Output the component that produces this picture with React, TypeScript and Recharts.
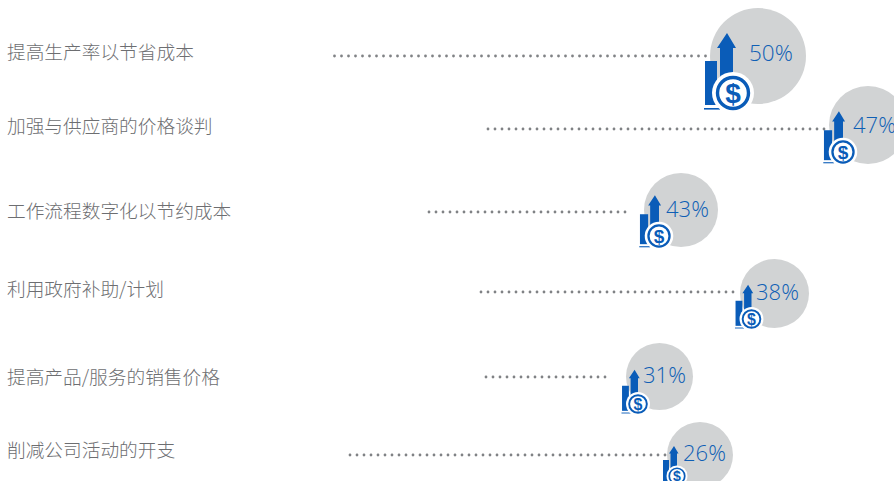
import React from "react";
import { ScatterChart, Scatter, XAxis, YAxis, ReferenceLine } from "recharts";

const categories = ["提高生产率以节省成本", "加强与供应商的价格谈判", "工作流程数字化以节约成本", "利用政府补助/计划", "提高产品/服务的销售价格", "削减公司活动的开支"];
const percents = [50, 47, 43, 38, 31, 26];
const labelRows = [52, 126, 211, 289, 377, 450];
const dotRows = [56, 129, 212, 292, 377, 455];
const dotStarts = [334.5, 488, 429, 481, 486, 350];
const dotEnds = [708, 830, 628, 740, 608, 666];
const bubbleX = [758, 868, 681, 774.5, 659.5, 700];
const bubbleY = [56, 125, 210, 293.5, 376.5, 455];
const bubbleR = [48, 39, 37, 34.5, 33.5, 33];
const coinX = [733, 843, 659, 751.5, 638, 677];
const coinY = [93, 152, 236, 319, 404, 476];
const coinScale = [1, 0.68, 0.68, 0.57, 0.57, 0.5];
const textX = [749, 853, 666, 756, 643, 683];
const textY = [53, 125, 209, 292, 375, 453];
const textSize = [22.5, 22, 22, 22, 22, 22];

const W = 894;
const H = 481;
const BLUE = "#0a5cb8";

const bubbles = percents.map((p, i) => ({ x: bubbleX[i], y: bubbleY[i], r: bubbleR[i], p }));
const icons = percents.map((_, i) => ({ x: coinX[i], y: coinY[i], s: coinScale[i] }));
const texts = percents.map((p, i) => ({ x: textX[i], y: textY[i], fs: textSize[i], p }));

const Bubble = (props: any) => <circle cx={props.cx} cy={props.cy} r={props.payload.r} fill="#d1d3d4" />;

const Icon = (props: any) => (
  <g transform={`translate(${props.cx},${props.cy}) scale(${props.payload.s})`}>
    <rect x={-28} y={-32} width={12} height={44} fill={BLUE} />
    <rect x={-29} y={15} width={16} height={1.6} fill={BLUE} />
    <polygon points="-6,-60 3,-45 0,-45 0,-15 -13,-15 -13,-45 -16,-45" fill={BLUE} />
    <circle r={21} fill="#fff" />
    <circle r={15.5} fill="#fff" stroke={BLUE} strokeWidth={3.4} />
    <text y={10} textAnchor="middle" fontSize={28} fontWeight={700} fontFamily="'Liberation Sans Narrow', 'Liberation Sans', sans-serif" fill={BLUE}>$</text>
  </g>
);

const Pct = (props: any) => (
  <text x={props.cx} y={props.cy} dy="0.36em" fontSize={props.payload.fs} fontWeight={300} fontFamily="'Open Sans', sans-serif" fill="#0f5fb5">
    {props.payload.p}%
  </text>
);

const CategoryTick = (props: any) => (
  <text x={7} y={props.y} dy="0.36em" textAnchor="start" fontSize={18.7} fontWeight={300} fontFamily="'Noto Sans CJK SC', sans-serif" fill="#6d6e71">
    {categories[labelRows.indexOf(props.payload.value)]}
  </text>
);

export default function App() {
  return (
    <div style={{ position: "absolute", left: 0, top: 0, width: W, height: H, overflow: "hidden" }}>
      <ScatterChart width={W} height={H} margin={{ top: 0, right: 0, bottom: 0, left: 0 }}>
        <XAxis type="number" dataKey="x" domain={[0, W]} hide />
        <YAxis
          type="number"
          dataKey="y"
          domain={[0, H]}
          reversed
          mirror
          width={60}
          axisLine={false}
          tickLine={false}
          ticks={labelRows}
          interval={0}
          tick={<CategoryTick />}
        />
        {dotRows.map((y, i) => (
          <ReferenceLine
            key={i}
            segment={[{ x: dotStarts[i], y }, { x: dotEnds[i], y }]}
            stroke="#808285"
            strokeWidth={2.8}
            strokeLinecap="round"
            strokeDasharray="0 7"
          />
        ))}
        <Scatter data={bubbles} shape={Bubble} isAnimationActive={false} />
        <Scatter data={icons} shape={Icon} isAnimationActive={false} />
        <Scatter data={texts} shape={Pct} isAnimationActive={false} />
      </ScatterChart>
    </div>
  );
}
